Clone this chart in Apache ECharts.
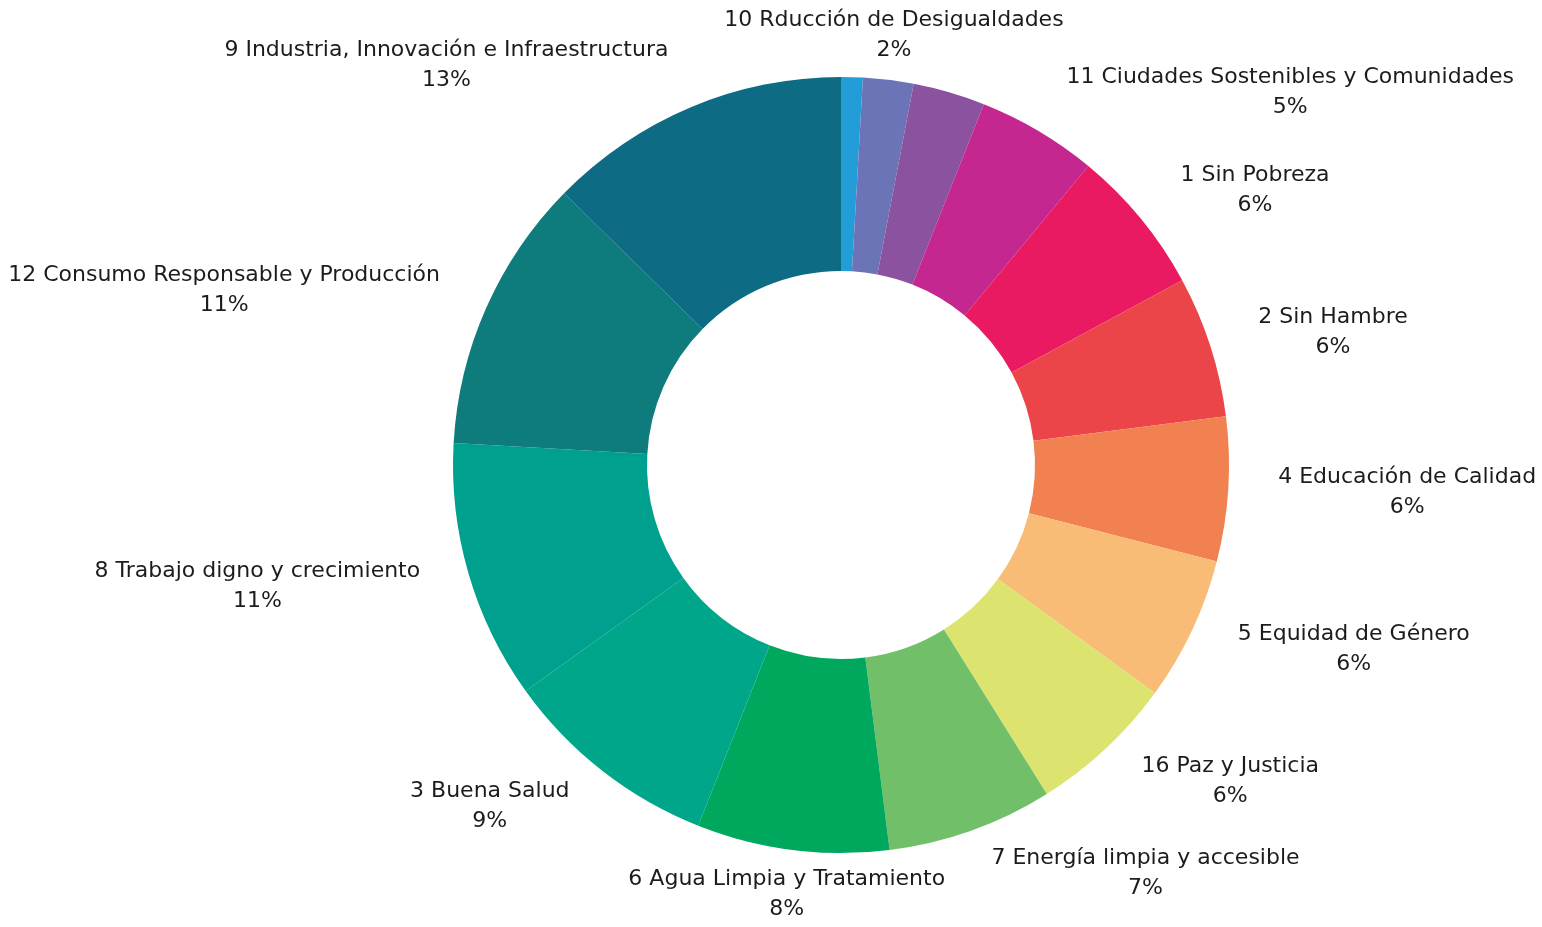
<!DOCTYPE html>
<html><head><meta charset="utf-8">
<script src="https://cdn.jsdelivr.net/npm/echarts@6/dist/echarts.min.js"></script>
<style>html,body{margin:0;padding:0;background:#fff}#c{width:1542px;height:927px}</style>
</head><body><div id="c"></div>
<script>
// Slices clockwise from 12 o'clock ('' = slice without a label)
const names = ['', '10 Rducción de Desigualdades', '', '11 Ciudades Sostenibles y Comunidades',
  '1 Sin Pobreza', '2 Sin Hambre', '4 Educación de Calidad', '5 Equidad de Género',
  '16 Paz y Justicia', '7 Energía limpia y accesible', '6 Agua Limpia y Tratamiento',
  '3 Buena Salud', '8 Trabajo digno y crecimiento', '12 Consumo Responsable y Producción',
  '9 Industria, Innovación e Infraestructura'];
const values = [0.9, 2.1, 3.0, 5.0, 6.1, 5.9, 6.0, 6.0, 6.1, 6.9, 8.0, 9.1, 10.8, 11.45, 12.65];
const colors = ['#239DD8', '#6C74B8', '#8A529F', '#C4278F', '#E91A62', '#EB4549', '#F28152',
  '#F9BC76', '#DCE46F', '#71C069', '#00A85D', '#00A68A', '#00A08E', '#0E7C7D', '#0D6B84'];

const total = values.reduce((a, b) => a + b, 0);
let acc = 0;
const nearVertical = values.map(v => {
  const mid = (acc + v / 2) / total; acc += v;
  return Math.abs(Math.sin(2 * Math.PI * mid)) < 0.2;
});

const chart = echarts.init(document.getElementById('c'), null, {renderer: 'canvas'});
chart.setOption({
  animation: false,
  backgroundColor: '#ffffff',
  series: [{
    type: 'pie',
    center: ['54.54%', '50.16%'],
    radius: [194, 388],
    startAngle: 90,
    clockwise: true,
    avoidLabelOverlap: false,
    emphasis: {disabled: true},
    itemStyle: {borderWidth: 0},
    label: {
      show: true,
      position: 'outside',
      distanceToLabelLine: 5,
      fontFamily: 'DejaVu Sans',
      fontSize: 22,
      lineHeight: 30,
      color: '#1c1c1c',
      formatter: p => p.name + '\n' + Math.round(p.value / total * 100) + '%'
    },
    labelLine: {show: false, length: 45, length2: 0},
    labelLayout: function (p) {
      const r = p.labelRect;
      const cy = r.y + r.height / 2;
      if (nearVertical[p.dataIndex]) {
        const ax = p.align === 'left' ? r.x - 5 : r.x + r.width + 5;
        return {x: ax, y: cy, align: 'center', verticalAlign: 'middle'};
      }
      return {x: r.x + r.width / 2, y: cy, align: 'center', verticalAlign: 'middle'};
    },
    data: names.map((n, i) => ({
      name: n || ('s' + i),
      value: values[i],
      itemStyle: {color: colors[i]},
      label: {show: !!n}
    }))
  }]
});
</script>
</body></html>
